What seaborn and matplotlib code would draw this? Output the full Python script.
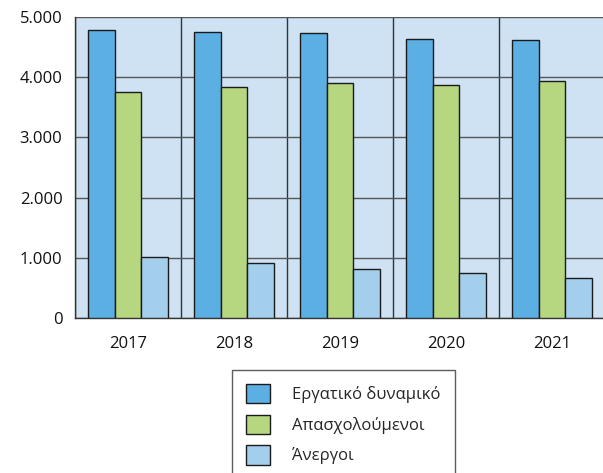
import pandas as pd
import numpy as np
from matplotlib import pyplot as plt
import seaborn as sns

# values
years = ['2017', '2018', '2019', '2020', '2021']
ergatiko = [4780, 4745, 4735, 4625, 4610]
apasxoloumenoi = [3750, 3830, 3905, 3875, 3930]
anergoi = [1020, 910, 815, 745, 675]
series_names = ['Εργατικό δυναμικό', 'Απασχολούμενοι', 'Άνεργοι']
colors = ['#5BAFE3', '#B6D680', '#A3CEEC']

df = pd.DataFrame({'year': years * 3,
                   'value': ergatiko + apasxoloumenoi + anergoi,
                   'series': [s for s in series_names for _ in years]})

sns.set_style('white')
plt.rcParams['font.family'] = ['Open Sans', 'DejaVu Sans']
plt.rcParams['font.size'] = 12

fig = plt.figure(figsize=(6.03, 4.73), dpi=100)
ax = fig.add_axes([75 / 603, 1 - 318.3 / 473, 530 / 603, 301.6 / 473])
ax.set_facecolor('#CFE2F3')

sns.barplot(data=df, x='year', y='value', hue='series', palette=colors,
            saturation=1, width=0.75, gap=0, edgecolor='#1a1a1a', linewidth=1,
            ax=ax, zorder=3)

ax.set_xlim(-0.5, 4.5)
ax.set_ylim(0, 5000)
ax.set_yticks(range(0, 5001, 1000))
ax.set_yticklabels([f'{v:,}'.replace(',', '.') for v in range(0, 5001, 1000)])
ax.set_xticks(range(5))
ax.set_xticklabels(years)
ax.set_xticks(np.arange(-0.5, 5, 1), minor=True)
ax.tick_params(axis='x', which='major', length=0, pad=13, labelsize=12)
ax.tick_params(axis='x', which='minor', length=9, width=1, color='#333333', direction='out')
ax.tick_params(axis='y', length=6, width=1, color='#555555', direction='out', pad=3, labelsize=12)
ax.grid(axis='y', color='#555555', linewidth=1, zorder=1)
ax.grid(axis='x', which='minor', color='#333333', linewidth=1, zorder=1)
ax.set_axisbelow(True)
for s in ['top', 'right']:
    ax.spines[s].set_visible(False)
ax.spines['left'].set_color('#333333')
ax.spines['bottom'].set_color('#333333')
ax.spines['left'].set_linewidth(1)
ax.spines['bottom'].set_linewidth(1)
ax.set_xlabel('')
ax.set_ylabel('')
ax.tick_params(labelcolor='#111111')

handles, labels = ax.get_legend_handles_labels()
ax.legend_.remove()
leg = fig.legend(handles, labels, loc='upper left',
                 bbox_to_anchor=(232 / 603, 1 - 370 / 473),
                 frameon=True, fancybox=False, shadow=False,
                 handlelength=1.4, handleheight=1.4, handletextpad=1.35,
                 labelspacing=0.68, borderpad=0.85, borderaxespad=0,
                 fontsize=12)
leg.get_frame().set_edgecolor('#333333')
leg.get_frame().set_linewidth(1)

plt.savefig('out.png', dpi=100)
